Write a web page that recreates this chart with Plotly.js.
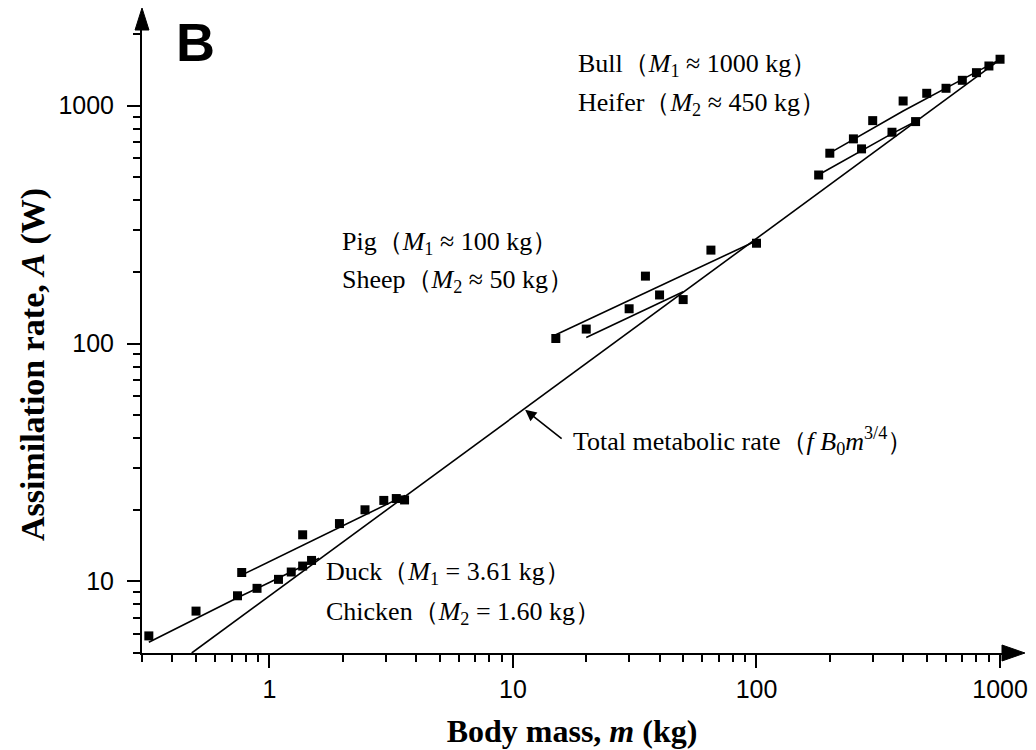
<!DOCTYPE html>
<html>
<head>
<meta charset="utf-8">
<script src="https://cdn.plot.ly/plotly-3.0.1.min.js"></script>
<style>html,body{margin:0;padding:0;background:#fff}#chart{width:1036px;height:750px}</style>
</head>
<body>
<div id="chart"></div>
<script>
// ---- measured data points (body mass kg, assimilation rate W) ----
const chickenMass = [0.32, 0.50, 0.74, 0.89, 1.09, 1.23, 1.37, 1.49];
const chickenRate = [5.9, 7.5, 8.7, 9.35, 10.2, 10.95, 11.6, 12.25];
const duckMass = [0.77, 1.37, 1.94, 2.47, 2.95, 3.32, 3.59];
const duckRate = [10.9, 15.7, 17.5, 20.0, 21.9, 22.3, 22.0];
const sheepMass = [20, 30, 40, 50];
const sheepRate = [115, 140, 160, 153];
const pigMass = [15, 35, 65, 100];
const pigRate = [105, 192, 247, 264];
const heiferMass = [180, 270, 360, 450];
const heiferRate = [511, 658, 773, 857];
const bullMass = [200, 250, 300, 400, 500, 600, 700, 800, 900, 1000];
const bullRate = [631, 725, 865, 1046, 1127, 1183, 1278, 1376, 1468, 1567];

// ---- model curves ----
const totalCurveMass = [0.48, 1000];
const totalCurveRate = [5.0, 1560];
const chickenCurveMass = [0.32, 0.5, 0.75, 1.0, 1.3, 1.6];
const chickenCurveRate = [5.55, 7.0, 8.6, 9.9, 11.3, 12.5];
const duckCurveMass = [0.78, 1.0, 1.5, 2.0, 2.5, 3.0, 3.61];
const duckCurveRate = [10.7, 12.1, 14.8, 17.1, 19.1, 21.0, 23.0];
const sheepCurveMass = [20, 30, 40, 50];
const sheepCurveRate = [106, 129, 149, 165];
const pigCurveMass = [15, 30, 50, 75, 100];
const pigCurveRate = [108.8, 151.7, 193.6, 235.6, 270.6];
const heiferCurveMass = [177, 270, 360, 450];
const heiferCurveRate = [507, 648, 763, 858];
const bullCurveMass = [197, 400, 700, 1000];
const bullCurveRate = [627, 950, 1290, 1565];

// ---- ticks ----
const xMajorTicks = [1, 10, 100, 1000];
const xMajorText = ['1', '10', '100', '1000'];
const xMinorTicks = [0.3,0.4,0.5,0.6,0.7,0.8,0.9, 2,3,4,5,6,7,8,9, 20,30,40,50,60,70,80,90, 200,300,400,500,600,700,800,900];
const yMajorTicks = [10, 100, 1000];
const yMajorText = ['10', '100', '1000'];
const yMinorTicks = [5,6,7,8,9, 20,30,40,50,60,70,80,90, 200,300,400,500,600,700,800,900, 2000];

const labels = {
  bull: 'Bull（<i>M</i><sub>1</sub> ≈ 1000 kg）',
  heifer: 'Heifer（<i>M</i><sub>2</sub> ≈ 450 kg）',
  pig: 'Pig（<i>M</i><sub>1</sub> ≈ 100 kg）',
  sheep: 'Sheep（<i>M</i><sub>2</sub> ≈ 50 kg）',
  duck: 'Duck（<i>M</i><sub>1</sub> = 3.61 kg）',
  chicken: 'Chicken（<i>M</i><sub>2</sub> = 1.60 kg）',
  total: 'Total metabolic rate（<i>f B</i><sub>0</sub><i>m</i><sup>3/4</sup>）'
};
const xTitle = '<b>Body mass, <i>m</i> (kg)</b>';
const yTitle = '<b>Assimilation rate, <i>A</i> (W)</b>';

const lineStyle = {color: '#000', width: 1.6};
const markerStyle = {symbol: 'square', size: 9, color: '#000'};

function curve(x, y, name) {
  return {x: x, y: y, mode: 'lines', line: lineStyle, name: name, hoverinfo: 'skip'};
}
function pts(x, y, name) {
  return {x: x, y: y, mode: 'markers', marker: markerStyle, name: name, cliponaxis: false};
}

const data = [
  curve(totalCurveMass, totalCurveRate, 'Total metabolic rate'),
  curve(chickenCurveMass, chickenCurveRate, 'Chicken model'),
  curve(duckCurveMass, duckCurveRate, 'Duck model'),
  curve(sheepCurveMass, sheepCurveRate, 'Sheep model'),
  curve(pigCurveMass, pigCurveRate, 'Pig model'),
  curve(heiferCurveMass, heiferCurveRate, 'Heifer model'),
  curve(bullCurveMass, bullCurveRate, 'Bull model'),
  pts(chickenMass, chickenRate, 'Chicken'),
  pts(duckMass, duckRate, 'Duck'),
  pts(sheepMass, sheepRate, 'Sheep'),
  pts(pigMass, pigRate, 'Pig'),
  pts(heiferMass, heiferRate, 'Heifer'),
  pts(bullMass, bullRate, 'Bull')
];

const tickFont = {family: 'Liberation Sans, Arial, sans-serif', size: 25, color: '#000'};
const annFont = {family: 'Liberation Serif, Times New Roman, serif', size: 26, color: '#000'};

function ann(text, x, y) {
  return {text: text, x: x, y: y, xref: 'paper', yref: 'paper', xanchor: 'left', yanchor: 'middle',
          showarrow: false, font: annFont};
}

const layout = {
  width: 1036, height: 750,
  margin: {l: 142, r: 34, t: 30, b: 97},
  paper_bgcolor: '#fff', plot_bgcolor: '#fff',
  showlegend: false,
  xaxis: {
    type: 'log', range: [Math.log10(0.3), 3.008],
    showgrid: false, zeroline: false, showline: true, linecolor: '#000', linewidth: 2,
    ticks: 'outside', ticklen: 13, tickwidth: 2, tickcolor: '#000',
    tickmode: 'array', tickvals: xMajorTicks, ticktext: xMajorText, tickfont: tickFont,
    minor: {tickmode: 'array', tickvals: xMinorTicks, ticks: 'outside', ticklen: 7, tickwidth: 2, tickcolor: '#000', showgrid: false},
    title: {text: xTitle, font: {family: 'Liberation Serif, Times New Roman, serif', size: 32, color: '#000'}, standoff: 18}
  },
  yaxis: {
    type: 'log', range: [Math.log10(5), 3.318],
    showgrid: false, zeroline: false, showline: true, linecolor: '#000', linewidth: 2,
    ticks: 'outside', ticklen: 13, tickwidth: 2, tickcolor: '#000',
    tickmode: 'array', tickvals: yMajorTicks, ticktext: yMajorText, tickfont: tickFont,
    ticklabelstandoff: 8,
    minor: {tickmode: 'array', tickvals: yMinorTicks, ticks: 'outside', ticklen: 7, tickwidth: 2, tickcolor: '#000', showgrid: false}
  },
  shapes: [
    {type: 'path', xref: 'paper', yref: 'paper', path: 'M 1 -0.0128 L 1.0267 0 L 1 0.0128 Z', fillcolor: '#000', line: {color: '#000', width: 1}},
    {type: 'path', xref: 'paper', yref: 'paper', path: 'M -0.0081 1 L 0 1.0353 L 0.0081 1 Z', fillcolor: '#000', line: {color: '#000', width: 1}}
  ],
  annotations: [
    {text: yTitle, x: -0.1264, y: 0.4626, xref: 'paper', yref: 'paper', xanchor: 'center', yanchor: 'middle',
     textangle: -90, showarrow: false, font: {family: 'Liberation Serif, Times New Roman, serif', size: 34, color: '#000'}},
    {text: '<b>B</b>', x: 0.037, y: 0.98, xref: 'paper', yref: 'paper', xanchor: 'left', yanchor: 'middle', showarrow: false,
     font: {family: 'Liberation Sans, Arial, sans-serif', size: 54, color: '#000'}},
    ann(labels.bull, 0.505, 0.9437),
    ann(labels.heifer, 0.505, 0.8814),
    ann(labels.pig, 0.2303, 0.6583),
    ann(labels.sheep, 0.2303, 0.5973),
    ann(labels.duck, 0.2115, 0.1288),
    ann(labels.chicken, 0.2115, 0.0647),
    ann(labels.total, 0.4985, 0.3406),
    {text: '', x: 0.4455, y: 0.3903, xref: 'paper', yref: 'paper', showarrow: true, ax: 38, ay: 30,
     arrowhead: 2, arrowsize: 1.4, arrowwidth: 1.6, arrowcolor: '#000'}
  ]
};

Plotly.newPlot('chart', data, layout, {staticPlot: true, displayModeBar: false});
</script>
</body>
</html>
